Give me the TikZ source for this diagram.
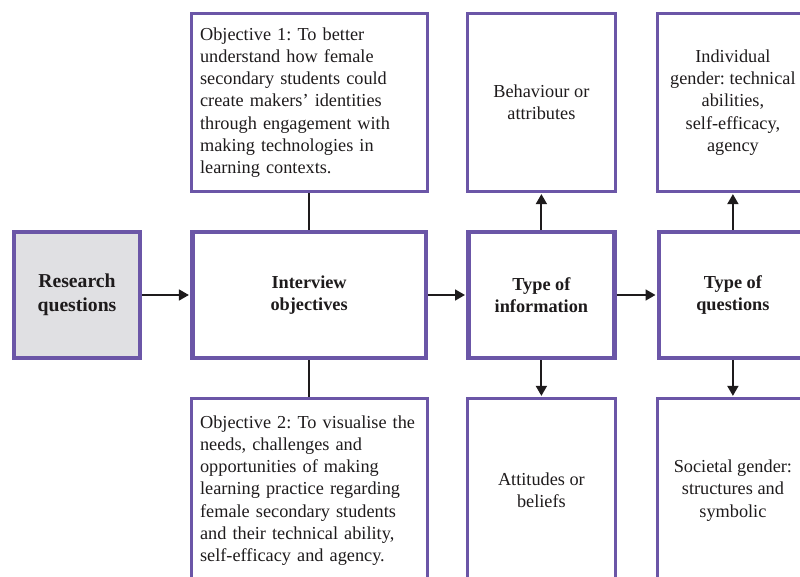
\documentclass[tikz,border=0pt]{standalone}
\usepackage{fontspec}
\setmainfont{Liberation Serif}
\usepackage{xcolor}
\definecolor{Frame}{HTML}{6B56A7}
\definecolor{Shade}{HTML}{E0E0E3}
\definecolor{Ink}{HTML}{1E1B1C}
\usetikzlibrary{arrows.meta,positioning}
\frenchspacing

\begin{document}
\begin{tikzpicture}[
  node distance=0.925cm and 0.95cm,
  every node/.style={font=\fontsize{13}{15.8}\selectfont,align=center,text=Ink},
  head/.style={font=\fontsize{13}{15.8}\selectfont\bfseries},
  mainbox/.style={draw=Frame,line width=3.2pt,minimum width=#1,minimum height=3.14cm},
  mainbox/.default=3.65cm,
  sidebox/.style={draw=Frame,line width=2pt,minimum width=#1,minimum height=4.455cm},
  sidebox/.default=3.7cm,
  lowbox/.style={minimum height=4.6cm},
  goalbox/.style={sidebox=5.9cm,align=left,text width=5.45cm,inner xsep=0.225cm},
  link/.style={line width=1.5pt,draw=Ink},
  arrow/.style={link,shorten >=0.8pt,-{Triangle[length=2.5mm,width=2.7mm]}}
]
\useasboundingbox (0,0) rectangle (20,14.4);
\clip (0,0) rectangle (20,14.4);

% main row
\node[mainbox=3.14cm,fill=Shade,head,font=\fontsize{14}{17}\selectfont\bfseries] (rq) at (1.925,7.025) {Research\\questions};
\node[mainbox=5.84cm,head,right=1.2cm of rq] (io) {Interview\\objectives};
\node[mainbox,head,right=of io] (ti) {Type of\\information};
\node[mainbox=3.7cm,head,right=1cm of ti] (tq) {Type of\\questions};

% boxes above and below
\node[goalbox,above=of io] (obj1) {Objective 1: To better\\understand how female\\secondary students could\\create makers' identities\\through engagement with\\making technologies in\\learning contexts.};
\node[goalbox,lowbox,below=of io] (obj2) {Objective 2: To visualise the\\needs, challenges and\\opportunities of making\\learning practice regarding\\female secondary students\\and their technical ability,\\self-efficacy and agency.};
\node[sidebox,above=of ti] (beh) {Behaviour or\\attributes};
\node[sidebox,lowbox,below=of ti] (att) {Attitudes or\\beliefs};
\node[sidebox=3.75cm,above=of tq] (ind) {Individual\\gender: technical\\abilities,\\self-efficacy,\\agency};
\node[sidebox=3.75cm,lowbox,below=of tq] (soc) {Societal gender:\\structures and\\symbolic};

\draw[arrow] (rq) -- (io);
\draw[arrow] (io) -- (ti);
\draw[arrow] (ti) -- (tq);
\draw[link] (io) -- (obj1);
\draw[link] (io) -- (obj2);
\draw[arrow] (ti) -- (beh);
\draw[arrow] (ti) -- (att);
\draw[arrow] (tq) -- (ind);
\draw[arrow] (tq) -- (soc);
\end{tikzpicture}
\end{document}
